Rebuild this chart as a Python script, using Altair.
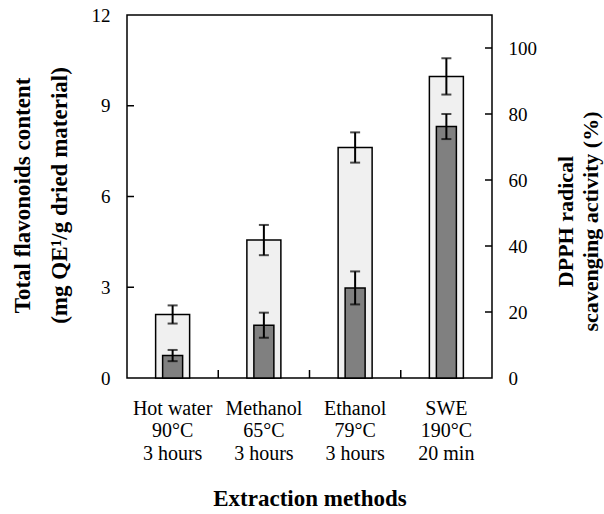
import altair as alt
import pandas as pd

methods = ["Hot water", "Methanol", "Ethanol", "SWE"]
temps = ["90°C", "65°C", "79°C", "190°C"]
times = ["3 hours", "3 hours", "3 hours", "20 min"]
tfc = [2.1, 4.56, 7.62, 9.97]
tfc_err = [0.3, 0.5, 0.5, 0.6]
dpph = [6.8, 16.0, 27.3, 76.2]
dpph_err = [1.7, 3.8, 5.0, 3.8]
left_ticks = [0, 3, 6, 9, 12]
right_ticks = [0, 20, 40, 60, 80, 100]

FONT = "Liberation Serif"

df = pd.DataFrame({
    "method": methods,
    "label": [f"{m}|{t}|{h}" for m, t, h in zip(methods, temps, times)],
    "tfc": tfc,
    "tfc_lo": [v - e for v, e in zip(tfc, tfc_err)],
    "tfc_hi": [v + e for v, e in zip(tfc, tfc_err)],
    "dpph": dpph,
    "dpph_lo": [v - e for v, e in zip(dpph, dpph_err)],
    "dpph_hi": [v + e for v, e in zip(dpph, dpph_err)],
})
lt_df = pd.DataFrame({"v": left_ticks[1:-1]})
rt_df = pd.DataFrame({"v": right_ticks[1:]})
bt_df = pd.DataFrame({"label": list(df["label"][:-1])})

sort = list(df["label"])

x_axis = alt.Axis(
    title="Extraction methods", labelExpr="split(datum.label, '|')",
    labelAngle=0, ticks=False, domain=False, labelPadding=20,
    labelFontSize=20, labelLineHeight=22.5, labelColor="black",
    titleFontSize=23, titleFontWeight="bold", titleColor="black",
    titleY=127, titleBaseline="alphabetic",
)
x_scale = alt.Scale(domain=sort, paddingInner=0, paddingOuter=0)
x_enc = alt.X("label:N", sort=sort, axis=x_axis, scale=x_scale)

yl_scale = alt.Scale(domain=[0, 12], nice=False, zero=True)
yr_scale = alt.Scale(domain=[0, 110], nice=False, zero=True)

base = alt.Chart(df)

light_bar = base.mark_bar(size=34, fill="#f0f0f0", stroke="black", strokeWidth=1.5).encode(
    x=x_enc,
    y=alt.Y("tfc:Q", scale=yl_scale, axis=alt.Axis(
        orient="left",
        title=["Total  flavonoids content", "(mg QE¹/g dried material)"],
        values=left_ticks, ticks=False, domain=False, grid=False,
        labelPadding=17, labelFontSize=19, labelColor="black",
        titleFontSize=23, titleFontWeight="bold", titleColor="black",
        titleAngle=-90, titleX=-98, titleY=180, titleAlign="center",
        titleBaseline="alphabetic", titleLineHeight=37,
    )),
)
light_rule = base.mark_rule(color="black", strokeWidth=2).encode(
    x=x_enc, y=alt.Y("tfc_lo:Q", scale=yl_scale, axis=None), y2="tfc_hi:Q")
light_cap_lo = base.mark_tick(color="black", size=10, thickness=2).encode(
    x=x_enc, y=alt.Y("tfc_lo:Q", scale=yl_scale, axis=None))
light_cap_hi = base.mark_tick(color="black", size=10, thickness=2).encode(
    x=x_enc, y=alt.Y("tfc_hi:Q", scale=yl_scale, axis=None))
left_tick_marks = alt.Chart(lt_df).mark_rule(color="black", strokeWidth=1.5).encode(
    y=alt.Y("v:Q", scale=yl_scale, axis=None), x=alt.value(0), x2=alt.value(7))
bottom_tick_marks = alt.Chart(bt_df).mark_rule(color="black", strokeWidth=1.5).encode(
    x=alt.X("label:N", sort=sort, axis=x_axis, scale=x_scale, bandPosition=1),
    y=alt.value(363), y2=alt.value(355))

dark_bar = base.mark_bar(size=20, fill="#808080", stroke="black", strokeWidth=1.5).encode(
    x=x_enc,
    y=alt.Y("dpph:Q", scale=yr_scale, axis=alt.Axis(
        orient="right",
        title=["DPPH radical", "scavenging activity (%)"],
        values=right_ticks, ticks=False, domain=False, grid=False,
        labelPadding=16, labelFontSize=19, labelColor="black",
        titleFontSize=22, titleFontWeight="bold", titleColor="black",
        titleAngle=-90, titleX=80, titleY=206, titleAlign="center",
        titleBaseline="alphabetic", titleLineHeight=25,
    )),
)
dark_rule = base.mark_rule(color="black", strokeWidth=2).encode(
    x=x_enc, y=alt.Y("dpph_lo:Q", scale=yr_scale, axis=None), y2="dpph_hi:Q")
dark_cap_lo = base.mark_tick(color="black", size=10, thickness=2).encode(
    x=x_enc, y=alt.Y("dpph_lo:Q", scale=yr_scale, axis=None))
dark_cap_hi = base.mark_tick(color="black", size=10, thickness=2).encode(
    x=x_enc, y=alt.Y("dpph_hi:Q", scale=yr_scale, axis=None))
right_tick_marks = alt.Chart(rt_df).mark_rule(color="black", strokeWidth=1.5).encode(
    y=alt.Y("v:Q", scale=yr_scale, axis=None), x=alt.value(358), x2=alt.value(365))

chart = alt.layer(
    light_bar, light_rule, light_cap_lo, light_cap_hi, left_tick_marks, bottom_tick_marks,
    dark_bar, dark_rule, dark_cap_lo, dark_cap_hi, right_tick_marks,
).resolve_scale(y="independent").properties(
    width=365, height=363,
    autosize=alt.AutoSizeParams(type="none"),
    padding={"left": 127, "top": 15, "right": 112, "bottom": 136},
    background="white",
).configure(font=FONT).configure_view(stroke="black", strokeWidth=1.5)

chart.save("out.html", embed_options={"renderer": "svg", "actions": False})
